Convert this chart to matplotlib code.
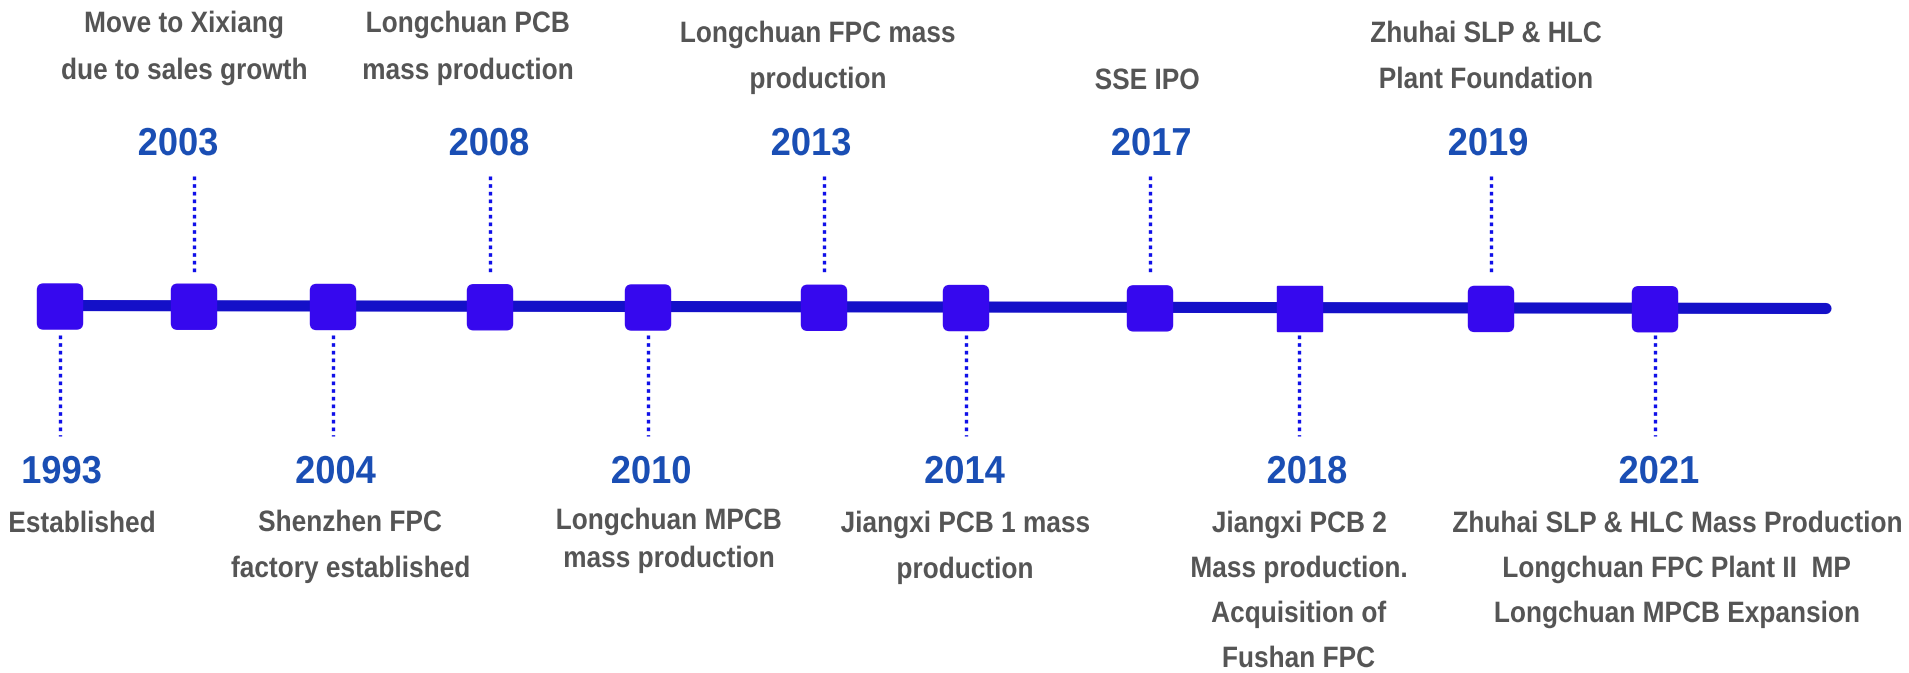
import matplotlib
matplotlib.use("Agg")
import matplotlib.pyplot as plt
from matplotlib.font_manager import FontProperties
from matplotlib.patches import FancyBboxPatch, Rectangle, PathPatch
from matplotlib.textpath import TextPath
from matplotlib.transforms import Affine2D

# ---- data ----
years = [1993, 2003, 2004, 2008, 2010, 2013, 2014, 2017, 2018, 2019, 2021]
events = [
    ["Established"],
    ["Move to Xixiang", "due to sales growth"],
    ["Shenzhen FPC", "factory established"],
    ["Longchuan PCB", "mass production"],
    ["Longchuan MPCB", "mass production"],
    ["Longchuan FPC mass", "production"],
    ["Jiangxi PCB 1 mass", "production"],
    ["SSE IPO"],
    ["Jiangxi PCB 2", "Mass production.", "Acquisition of", "Fushan FPC"],
    ["Zhuhai SLP & HLC", "Plant Foundation"],
    ["Zhuhai SLP & HLC Mass Production", "Longchuan FPC Plant II  MP",
     "Longchuan MPCB Expansion"],
]
side = ["below", "above", "below", "above", "below", "above",
        "below", "above", "below", "above", "below"]

# ---- layout (pixel coordinates of the 1909x673 canvas) ----
x_pos = [60, 194, 333, 490, 648, 824, 966, 1150, 1299, 1491, 1655]
year_x = [62, 178, 336, 489, 651, 811, 965, 1151, 1307, 1488, 1659]
text_x = [82, 184, 350, 468, 669, 818, 965, 1147, 1299, 1486, 1677]
text_y0 = [532, 32, 531, 32, 529, 42, 532, 89, 532, 42, 532]
text_step = [46, 47, 46, 47, 38, 46, 46, 46, 45, 46, 45]
sharp = [False] * 8 + [True] + [False] * 2

line_x0, line_x1 = 49, 1826
line_y0, line_y1 = 305.5, 308.5

sq_color = "#3608ee"
line_color = "#1410c8"
dot_color = "#1010e8"
year_color = "#1a4eb4"
text_color = "#555555"

bold = FontProperties(family="Liberation Sans", weight="bold")

fig = plt.figure(figsize=(19.09, 6.73), dpi=100)
ax = fig.add_axes([0, 0, 1, 1])
ax.set_xlim(0, 1909)
ax.set_ylim(673, 0)
ax.axis("off")


def line_y(x):
    return line_y0 + (line_y1 - line_y0) * (x - line_x0) / (line_x1 - line_x0)


def draw_text(s, x, y, em, sx, color):
    # text as a path so it can be drawn a little condensed, like the original
    tp = TextPath((0, 0), s, size=1, prop=bold)
    ext = tp.get_extents()
    w = (ext.x0 + ext.x1) / 2
    tr = Affine2D().translate(-w, 0).scale(em * sx, -em).translate(x, y)
    ax.add_patch(PathPatch(tr.transform_path(tp), facecolor=color,
                           edgecolor="none", zorder=4))


# main line
ax.plot([line_x0, line_x1], [line_y0, line_y1], color=line_color, lw=8,
        solid_capstyle="round", zorder=1)

sq = 45
for i, yr in enumerate(years):
    x = x_pos[i]
    y = line_y(x) + 1
    if sharp[i]:
        p = Rectangle((x - sq / 2, y - sq / 2), sq, sq, color=sq_color, zorder=3)
    else:
        p = FancyBboxPatch((x - sq / 2 + 6, y - sq / 2 + 6), sq - 12, sq - 12,
                           boxstyle="round,pad=6", color=sq_color, zorder=3)
    ax.add_patch(p)

    if side[i] == "above":
        ax.plot([x, x], [176, 275], color=dot_color, lw=2.4,
                linestyle=(0, (1.1, 1.2)), zorder=2)
        draw_text(str(yr), year_x[i], 155, 39, 0.93, year_color)
    else:
        ax.plot([x, x], [335, 436], color=dot_color, lw=2.4,
                linestyle=(0, (1.1, 1.2)), zorder=2)
        draw_text(str(yr), year_x[i], 483, 39, 0.93, year_color)

    for k, s in enumerate(events[i]):
        draw_text(s, text_x[i], text_y0[i] + k * text_step[i], 29.5, 0.89,
                  text_color)

fig.savefig("out.png", dpi=100, facecolor="white")
